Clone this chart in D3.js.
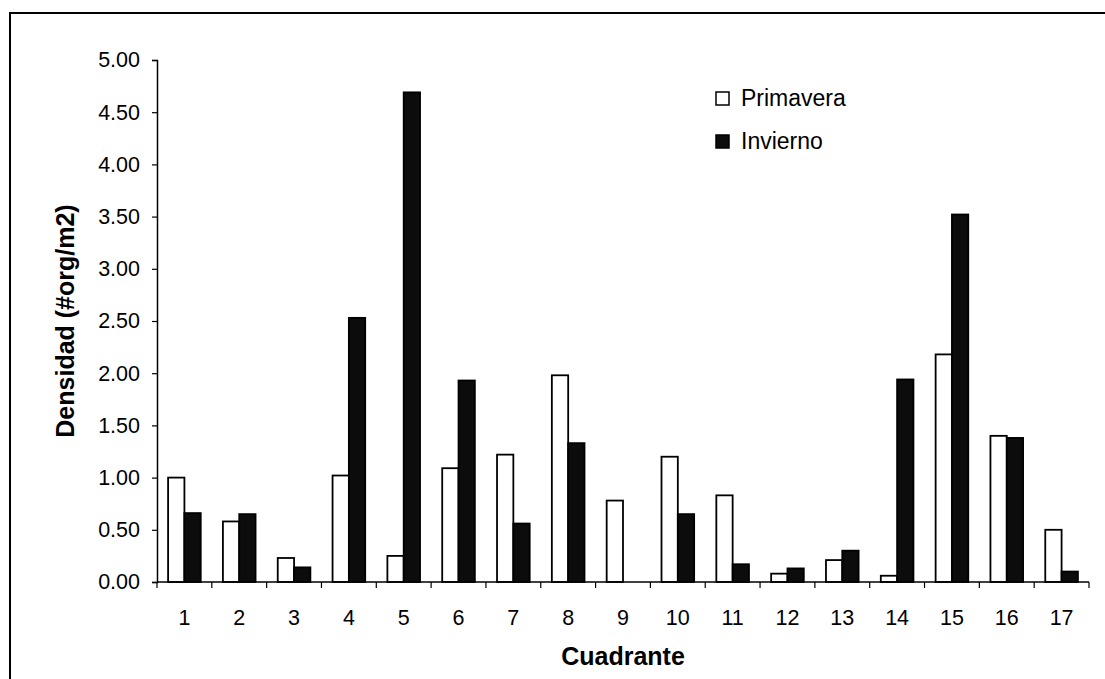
<!DOCTYPE html>
<html>
<head>
<meta charset="utf-8">
<script src="https://cdn.jsdelivr.net/npm/d3@7"></script>
<style>
  html, body { margin: 0; padding: 0; background: #fff; }
  svg { display: block; font-family: "Liberation Sans", Arial, sans-serif; }
</style>
</head>
<body>
<svg id="chart" width="1105" height="679"></svg>
<script>
// Densidad por cuadrante, primavera vs. invierno
const categories = ["1","2","3","4","5","6","7","8","9","10","11","12","13","14","15","16","17"];
const seriesNames = ["Primavera", "Invierno"];
const primavera = [1.00, 0.58, 0.23, 1.02, 0.25, 1.09, 1.22, 1.98, 0.78, 1.20, 0.83, 0.08, 0.21, 0.06, 2.18, 1.40, 0.50];
const invierno  = [0.66, 0.65, 0.14, 2.53, 4.69, 1.93, 0.56, 1.33, 0.00, 0.65, 0.17, 0.13, 0.30, 1.94, 3.52, 1.38, 0.10];
const yTicks = [0, 0.5, 1, 1.5, 2, 2.5, 3, 3.5, 4, 4.5, 5];

const svg = d3.select("#chart");
const margin = { left: 157, right: 1089, top: 60, bottom: 582 };

// outer frame
svg.append("rect")
  .attr("x", 10).attr("y", 13)
  .attr("width", 1200).attr("height", 800)
  .attr("fill", "none").attr("stroke", "#000").attr("stroke-width", 2);

const x0 = d3.scaleBand().domain(categories).range([margin.left, margin.right]).padding(0);
const x1 = d3.scaleBand().domain(seriesNames).range([0, x0.bandwidth()]).paddingInner(0).paddingOuter(0.68);
const y = d3.scaleLinear().domain([0, 5]).range([margin.bottom, margin.top]);

const fills = { "Primavera": "#ffffff", "Invierno": "#0c0c0c" };
const rows = categories.map((c, i) => ({ cat: c, values: [
  { key: "Primavera", v: primavera[i] },
  { key: "Invierno", v: invierno[i] }
]}));

const g = svg.append("g");
g.selectAll("g.grp").data(rows).join("g")
  .attr("class", "grp")
  .attr("transform", d => `translate(${x0(d.cat)},0)`)
  .selectAll("rect").data(d => d.values.filter(e => e.v > 0)).join("rect")
  .attr("x", d => x1(d.key))
  .attr("y", d => y(d.v))
  .attr("width", x1.bandwidth())
  .attr("height", d => y(0) - y(d.v))
  .attr("fill", d => fills[d.key])
  .attr("stroke", "#000")
  .attr("stroke-width", 1.8);

// Y axis
const yAxis = d3.axisLeft(y).tickValues(yTicks).tickFormat(d3.format(".2f")).tickSizeOuter(0).tickSize(5).tickPadding(12);
const ya = svg.append("g").attr("transform", `translate(${margin.left},0)`).call(yAxis);
ya.select(".domain").attr("stroke", "#000").attr("stroke-width", 1.5);
ya.selectAll(".tick line").attr("stroke", "#000").attr("stroke-width", 1.2);
ya.selectAll(".tick text").attr("font-size", 21.5).attr("fill", "#000")
  .attr("font-family", "Liberation Sans, Arial, sans-serif");

// X axis: ticks at category boundaries
const xa = svg.append("g").attr("transform", `translate(0,${margin.bottom})`);
xa.append("line").attr("x1", margin.left).attr("x2", margin.right)
  .attr("stroke", "#000").attr("stroke-width", 1.5);
const boundaries = categories.map(c => x0(c)).concat([margin.right]);
xa.selectAll("line.tk").data(boundaries).join("line").attr("class", "tk")
  .attr("x1", d => d).attr("x2", d => d).attr("y1", 0).attr("y2", 6)
  .attr("stroke", "#000").attr("stroke-width", 1.2);
xa.selectAll("text").data(categories).join("text")
  .attr("x", d => x0(d) + x0.bandwidth() / 2)
  .attr("y", 43)
  .attr("text-anchor", "middle")
  .attr("font-size", 21.5)
  .attr("fill", "#000")
  .text(d => d);

// Axis titles
svg.append("text")
  .attr("x", (margin.left + margin.right) / 2).attr("y", 665)
  .attr("text-anchor", "middle").attr("font-size", 25).attr("font-weight", "bold")
  .text("Cuadrante");
svg.append("text")
  .attr("transform", `translate(74,${(margin.top + margin.bottom) / 2}) rotate(-90)`)
  .attr("text-anchor", "middle").attr("font-size", 25).attr("font-weight", "bold")
  .text("Densidad (#org/m2)");

// Legend
const legend = svg.append("g").attr("transform", "translate(716,92)");
const li = legend.selectAll("g").data(seriesNames).join("g")
  .attr("transform", (d, i) => `translate(0,${i * 43})`);
li.append("rect").attr("width", 13).attr("height", 13)
  .attr("fill", d => fills[d]).attr("stroke", "#000").attr("stroke-width", 1.5);
li.append("text").attr("x", 25).attr("y", 14)
  .attr("font-size", 23).attr("fill", "#000").text(d => d);
</script>
</body>
</html>
